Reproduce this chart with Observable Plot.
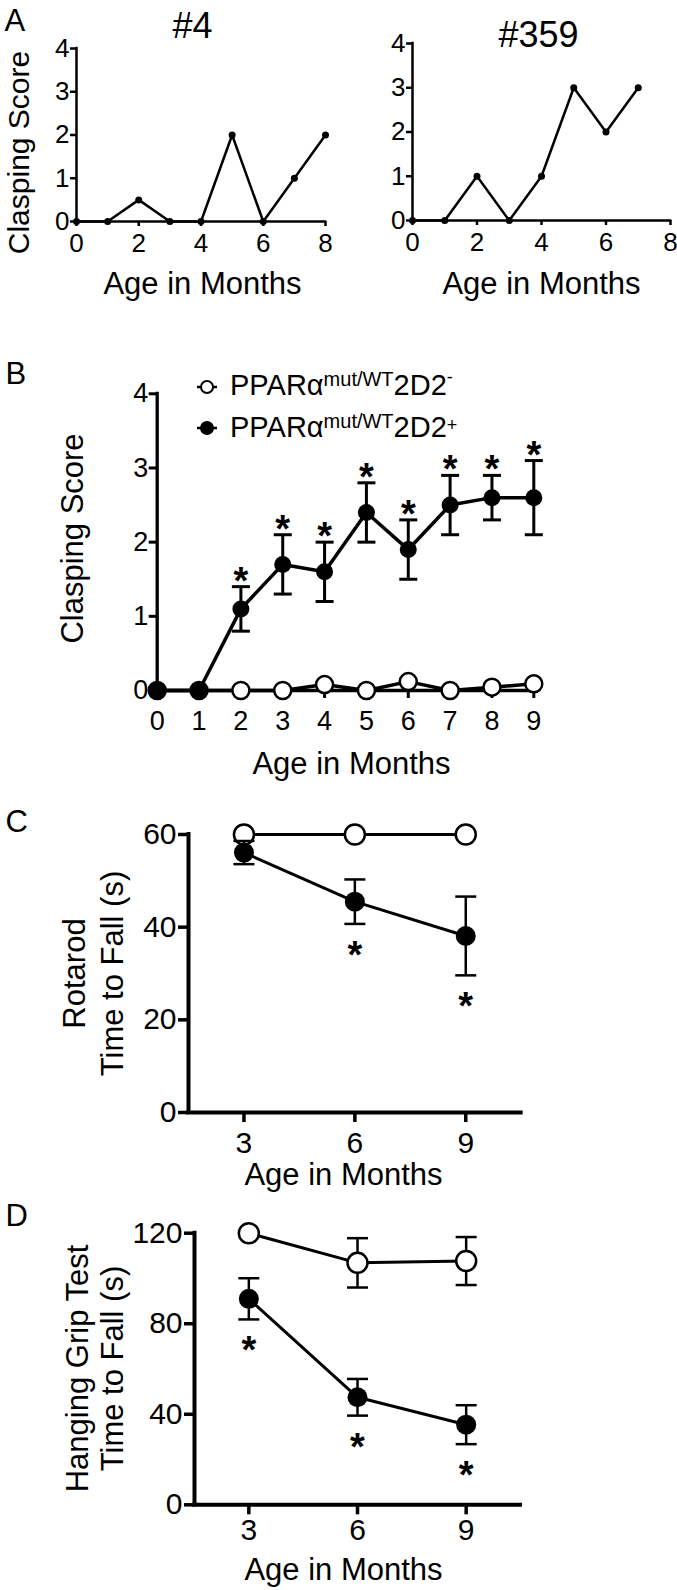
<!DOCTYPE html>
<html>
<head>
<meta charset="utf-8">
<script src="https://cdn.jsdelivr.net/npm/d3@7"></script>
<script src="https://cdn.jsdelivr.net/npm/@observablehq/plot@0.6"></script>
<style>
  html, body { margin: 0; padding: 0; background: white; }
  #root { position: relative; width: 677px; height: 1590px; background: white; overflow: hidden; font-family: 'Liberation Sans', Arial, Helvetica, sans-serif; }
  #root > div { position: absolute; }
</style>
</head>
<body>
<div id="root"></div>
<script>
// ---------- DATA ----------
// Panel A: individual mice
const monthsA4 = [0, 1, 2, 3, 4, 5, 6, 7, 8];
const scoreA4 = [0, 0, 0.5, 0, 0, 2, 0, 1, 2];
const monthsA359 = [0, 1, 2, 3, 4, 5, 6, 7];
const scoreA359 = [0, 0, 1, 0, 1, 3, 2, 3];
const aXTicks = [0, 2, 4, 6, 8];
const aYTicks = [0, 1, 2, 3, 4];

// Panel B: clasping score by group
const monthsB = [0, 1, 2, 3, 4, 5, 6, 7, 8, 9];
const claspNeg = [0, 0, 0, 0, 0.08, 0, 0.12, 0, 0.045, 0.09];
const claspPos = [0, 0, 1.1, 1.7, 1.6, 2.4, 1.9, 2.5, 2.6, 2.6];
const claspPosSem = [0, 0, 0.3, 0.4, 0.4, 0.4, 0.4, 0.4, 0.3, 0.5];
const claspSig = [false, false, true, true, true, true, true, true, true, true];
const bYTicks = [0, 1, 2, 3, 4];

// Panels C and D
const monthsCD = [3, 6, 9];
const rotarodNeg = [60, 60, 60];
const rotarodNegSem = [0, 0, 0];
const rotarodPos = [56.1, 45.5, 38.1];
const rotarodPosSem = [2.5, 4.8, 8.5];
const rotarodSig = [false, true, true];
const cYTicks = [0, 20, 40, 60];

const gripNeg = [120, 106.9, 107.7];
const gripNegSem = [0, 10.9, 10.6];
const gripPos = [91, 47.5, 35.4];
const gripPosSem = [9.1, 8.1, 8.6];
const gripSig = [true, true, true];
const dYTicks = [0, 40, 80, 120];

const legendNames = ["2D2-", "2D2+"];

// ---------- HELPERS ----------
const FONT = "'Liberation Sans', Arial, Helvetica, sans-serif";
const STYLE = {fontFamily: FONT, overflow: "visible", background: "transparent", color: "black"};
const fmt = (d) => String(d);
const root = document.getElementById("root");
function place(node, left, top) {
  const d = document.createElement("div");
  d.style.left = left + "px";
  d.style.top = top + "px";
  d.append(node);
  root.append(d);
}
function note(text, o) {
  return Plot.text([text], {text: (d) => d, frameAnchor: "top-left", fill: "black", ...o});
}
// horizontal error-bar cap symbol (half-width = r)
const cap = {draw(ctx, size) { const w = Math.sqrt(size / Math.PI); ctx.moveTo(-w, 0); ctx.lineTo(w, 0); }};

// ---------- PANEL A ----------
function panelA(months, scores, o) {
  const rows = months.map((m, i) => ({m, s: scores[i]}));
  const xd = [aXTicks[0], aXTicks[aXTicks.length - 1]];
  const yd = [aYTicks[0], aYTicks[aYTicks.length - 1]];
  return Plot.plot({
    width: o.width, height: 310,
    marginLeft: o.mL, marginRight: o.mR, marginTop: o.mT, marginBottom: o.mB,
    style: STYLE,
    x: {domain: xd}, y: {domain: yd},
    marks: [
      Plot.ruleX([xd[0]], {y1: yd[0], y2: yd[1], strokeWidth: 2.5, strokeLinecap: "square"}),
      Plot.ruleY([yd[0]], {x1: xd[0], x2: xd[1], strokeWidth: 2.5, strokeLinecap: "square"}),
      Plot.axisY({ticks: aYTicks, tickFormat: fmt, tickSize: 6, tickPadding: 1, fontSize: 26, strokeWidth: 2.5, label: null}),
      Plot.axisX({ticks: aXTicks, tickFormat: fmt, tickSize: 5, tickPadding: 7, fontSize: 26, strokeWidth: 2.5, label: null}),
      Plot.line(rows, {x: "m", y: "s", strokeWidth: 2.5, stroke: "black"}),
      Plot.dot(rows, {x: "m", y: "s", r: 3.5, fill: "black"}),
      note(o.title, {dx: o.tdx, dy: o.tdy, textAnchor: "middle", lineAnchor: "bottom", fontSize: 36}),
      note("Age in Months", {dx: o.xdx, dy: o.xdy, textAnchor: "middle", lineAnchor: "bottom", fontSize: 31}),
      ...(o.extra || [])
    ]
  });
}

place(panelA(monthsA4, scoreA4, {
  width: 340, mL: 76, mR: 15, mT: 48, mB: 89,
  title: "#4", tdx: 116, tdy: -11, xdx: 126, xdy: 245,
  extra: [
    note("A", {dx: -72, dy: -18, textAnchor: "start", lineAnchor: "bottom", fontSize: 31}),
    note("Clasping Score", {dx: -57, dy: 104, rotate: -90, textAnchor: "middle", lineAnchor: "middle", fontSize: 30})
  ]
}), 0, 0);

place(panelA(monthsA359, scoreA359, {
  width: 337, mL: 72, mR: 7, mT: 43, mB: 90,
  title: "#359", tdx: 126, tdy: 3, xdx: 129, xdy: 250
}), 340, 0);

// ---------- PANEL B ----------
{
  const rows = monthsB.map((m, i) => ({m, neg: claspNeg[i], pos: claspPos[i], sem: claspPosSem[i], sig: claspSig[i]}));
  const eb = rows.filter((d) => d.sem > 0);
  const xd = [monthsB[0], monthsB[monthsB.length - 1]];
  const yd = [bYTicks[0], bYTicks[bYTicks.length - 1]];
  const svg = Plot.plot({
    width: 677, height: 475,
    marginLeft: 156.7, marginRight: 143.7, marginTop: 83.3, marginBottom: 95,
    style: STYLE,
    x: {domain: xd}, y: {domain: yd},
    marks: [
      Plot.ruleX([xd[0]], {y1: yd[0], y2: yd[1], strokeWidth: 3.3, strokeLinecap: "square"}),
      Plot.ruleY([yd[0]], {x1: xd[0], x2: xd[1], strokeWidth: 3.3, strokeLinecap: "square"}),
      Plot.axisY({ticks: bYTicks, tickFormat: fmt, tickSize: 8, tickPadding: 1, fontSize: 27, strokeWidth: 3, label: null}),
      Plot.axisX({ticks: monthsB, tickFormat: fmt, tickSize: 8, tickPadding: 12, fontSize: 27, strokeWidth: 3, label: null}),
      Plot.line(rows, {x: "m", y: "neg", strokeWidth: 3.5, stroke: "black"}),
      Plot.dot(rows, {x: "m", y: "neg", r: 8.5, fill: "white", stroke: "black", strokeWidth: 2.5}),
      Plot.ruleX(eb, {x: "m", y1: (d) => d.pos - d.sem, y2: (d) => d.pos + d.sem, strokeWidth: 3}),
      Plot.dot(eb, {x: "m", y: (d) => d.pos + d.sem, symbol: cap, r: 9, stroke: "black", fill: "none", strokeWidth: 3}),
      Plot.dot(eb, {x: "m", y: (d) => d.pos - d.sem, symbol: cap, r: 9, stroke: "black", fill: "none", strokeWidth: 3}),
      Plot.line(rows, {x: "m", y: "pos", strokeWidth: 3.5, stroke: "black"}),
      Plot.dot(rows, {x: "m", y: "pos", r: 8.5, fill: "black"}),
      Plot.text(rows.filter((d) => d.sig), {x: "m", y: (d) => d.pos + d.sem, text: () => "*", fontSize: 38, fontWeight: "bold", lineAnchor: "bottom", dy: 7, fill: "black"}),
      note("B", {dx: -151.7, dy: -10.3, textAnchor: "start", lineAnchor: "bottom", fontSize: 31}),
      note("Clasping Score", {dx: -83.7, dy: 144.7, rotate: -90, textAnchor: "middle", lineAnchor: "middle", fontSize: 31}),
      note("Age in Months", {dx: 194.3, dy: 379.7, textAnchor: "middle", lineAnchor: "bottom", fontSize: 31})
    ]
  });
  place(svg, 0, 310);

  // legend (with superscripts)
  const NS = "http://www.w3.org/2000/svg";
  const lg = document.createElementNS(NS, "svg");
  lg.setAttribute("width", 320); lg.setAttribute("height", 90);
  lg.style.fontFamily = FONT; lg.style.display = "block";
  const rowsL = [
    {cy: 22, base: 30, fill: "white", supDy: -12},
    {cy: 63, base: 72, fill: "black", supDy: -6}
  ];
  rowsL.forEach((r, i) => {
    const ln = document.createElementNS(NS, "line");
    ln.setAttribute("x1", 7); ln.setAttribute("x2", 27); ln.setAttribute("y1", r.cy); ln.setAttribute("y2", r.cy);
    ln.setAttribute("stroke", "black"); ln.setAttribute("stroke-width", 2.5);
    lg.append(ln);
    const c = document.createElementNS(NS, "circle");
    c.setAttribute("cx", 17); c.setAttribute("cy", r.cy); c.setAttribute("r", 6);
    c.setAttribute("fill", r.fill); c.setAttribute("stroke", "black"); c.setAttribute("stroke-width", 2);
    lg.append(c);
    const t = document.createElementNS(NS, "text");
    t.setAttribute("x", 40); t.setAttribute("y", r.base); t.setAttribute("font-size", 29); t.setAttribute("fill", "black");
    const name = legendNames[i];
    t.innerHTML = `PPARα<tspan font-size="20" dy="-9">mut/WT</tspan><tspan dy="9">${name.slice(0, 3)}</tspan><tspan font-size="18" dy="${r.supDy}">${name.slice(3)}</tspan>`;
    lg.append(t);
  });
  place(lg, 190, 365);
}

// ---------- PANELS C & D ----------
function panelCD(neg, negSem, pos, posSem, sig, yTicks, o) {
  const rows = monthsCD.map((m, i) => ({m, neg: neg[i], negSem: negSem[i], pos: pos[i], posSem: posSem[i], sig: sig[i]}));
  const ebN = rows.filter((d) => d.negSem > 0);
  const ebP = rows.filter((d) => d.posSem > 0);
  const xd = o.xDomain;
  const yd = [yTicks[0], yTicks[yTicks.length - 1]];
  const capW = 10.5;
  const errMarks = (data, key, semKey) => [
    Plot.ruleX(data, {x: "m", y1: (d) => d[key] - d[semKey], y2: (d) => d[key] + d[semKey], strokeWidth: 2.5}),
    Plot.dot(data, {x: "m", y: (d) => d[key] + d[semKey], symbol: cap, r: capW, stroke: "black", fill: "none", strokeWidth: 2.5}),
    Plot.dot(data, {x: "m", y: (d) => d[key] - d[semKey], symbol: cap, r: capW, stroke: "black", fill: "none", strokeWidth: 2.5})
  ];
  return Plot.plot({
    width: 677, height: o.height,
    marginLeft: o.mL, marginRight: o.mR, marginTop: o.mT, marginBottom: o.mB,
    style: STYLE,
    x: {domain: xd}, y: {domain: yd},
    marks: [
      Plot.ruleX([xd[0]], {y1: yd[0], y2: yd[1], strokeWidth: 4, strokeLinecap: "square"}),
      Plot.ruleY([yd[0]], {x1: xd[0], x2: xd[1], strokeWidth: 4, strokeLinecap: "square"}),
      Plot.axisY({ticks: yTicks, tickFormat: fmt, tickSize: 10, tickPadding: 2, fontSize: 30, strokeWidth: 3.5, label: null}),
      Plot.axisX({ticks: monthsCD, tickFormat: fmt, tickSize: 10, tickPadding: o.xPad, fontSize: 30, strokeWidth: 3.5, label: null}),
      ...errMarks(ebN, "neg", "negSem"),
      Plot.line(rows, {x: "m", y: "neg", strokeWidth: 3, stroke: "black"}),
      Plot.dot(rows, {x: "m", y: "neg", r: 10, fill: "white", stroke: "black", strokeWidth: 2.5}),
      ...errMarks(ebP, "pos", "posSem"),
      Plot.line(rows, {x: "m", y: "pos", strokeWidth: 3, stroke: "black"}),
      Plot.dot(rows, {x: "m", y: "pos", r: 10, fill: "black"}),
      Plot.text(rows.filter((d) => d.sig), {x: "m", y: (d) => d.pos - d.posSem, text: () => "*", fontSize: 38, fontWeight: "bold", lineAnchor: "bottom", dy: 44, fill: "black"}),
      note(o.letter, {dx: o.ldx, dy: o.ldy, textAnchor: "start", lineAnchor: "bottom", fontSize: 31}),
      note(o.ylabel, {dx: o.ydx, dy: o.ydy, rotate: -90, textAnchor: "middle", lineAnchor: "middle", lineHeight: o.lh, fontSize: 31}),
      note("Age in Months", {dx: o.xdx, dy: o.xdy, textAnchor: "middle", lineAnchor: "bottom", fontSize: 31})
    ]
  });
}

place(panelCD(rotarodNeg, rotarodNegSem, rotarodPos, rotarodPosSem, rotarodSig, cYTicks, {
  xDomain: [1.5, 10.5], height: 410, mL: 188, mR: 156.3, mT: 49, mB: 83, xPad: 9,
  letter: "C", ldx: -183, ldy: -2.3,
  ylabel: "Rotarod\nTime to Fall (s)", ydx: -96.5, ydy: 139, lh: 1.2,
  xdx: 155, xdy: 350.5
}), 0, 785);

place(panelCD(gripNeg, gripNegSem, gripPos, gripPosSem, gripSig, dYTicks, {
  xDomain: [1.5, 10.5], height: 395, mL: 194, mR: 157, mT: 37.7, mB: 85.7, xPad: 4,
  letter: "D", ldx: -189, ldy: -7.7,
  ylabel: "Hanging Grip Test\nTime to Fall (s)", ydx: -100.5, ydy: 135.3, lh: 1.13,
  xdx: 149, xdy: 346.3
}), 0, 1195);
</script>
</body>
</html>
